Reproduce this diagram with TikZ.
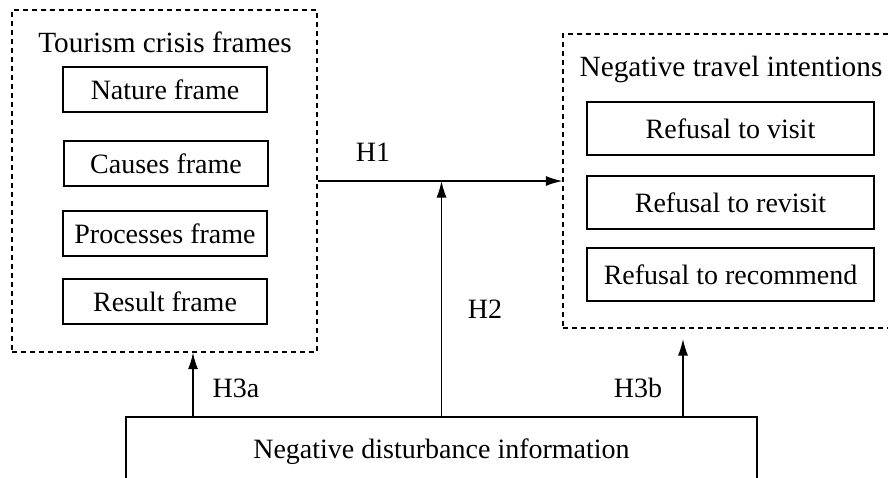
\documentclass[tikz,border=0pt]{standalone}
\usepackage{fontspec}
\setmainfont{Liberation Serif}
\usetikzlibrary{arrows.meta}
\begin{document}
\begin{tikzpicture}[x=0.5pt,y=-0.5pt,
  txt/.style={font=\fontsize{14}{16}\selectfont, inner sep=0pt},
  ttl/.style={font=\fontsize{14.65}{17}\selectfont, inner sep=0pt},
  frame/.style={draw, dash pattern=on 2.6pt off 1.9pt, line width=0.6pt, inner sep=0pt},
  item/.style={draw, line width=0.75pt, inner sep=0pt, font=\fontsize{14}{16}\selectfont},
  arr/.style={-{Latex[length=8.3pt,width=5pt]}, line width=0.65pt}]
\clip (0,0) rectangle (888,477);
\useasboundingbox (0,0) rectangle (888,477);

% framing groups
\node[frame, minimum width=152.5pt, minimum height=171pt] (tcf) at (164.5,181) {};
\node[ttl] (tcft) at (165,42) {Tourism crisis frames};
\node[item, minimum width=102pt, minimum height=22.5pt] (f1) at (165,89.5) {Nature frame};
\node[item, minimum width=102pt, minimum height=22.5pt] (f2) at (166,163.5) {Causes frame};
\node[item, minimum width=102pt, minimum height=22.5pt] (f3) at (165,233.5) {Processes frame};
\node[item, minimum width=102pt, minimum height=22.5pt] (f4) at (165,301.5) {Result frame};

\node[frame, minimum width=167.5pt, minimum height=147pt] (nti) at (730.5,181) {};
\node[ttl] (ntit) at (731,69) {Negative travel intentions};
\node[item, minimum width=143.5pt, minimum height=26.5pt] (r1) at (730.5,128.5) {Refusal to visit};
\node[item, minimum width=143.5pt, minimum height=26.5pt] (r2) at (730.5,202.5) {Refusal to revisit};
\node[item, minimum width=143.5pt, minimum height=26.5pt] (r3) at (730.5,274.5) {Refusal to recommend};

% source box
\node[item, minimum width=315.5pt, minimum height=35pt] (ndi) at (441.5,452) {Negative disturbance information};

% connectors
\coordinate (h3a) at (193,0);
\coordinate (h3b) at (683,339);
\draw[arr] (tcf.east) -- (nti.west);
\draw[arr] (ndi.north) -- (ndi.north |- tcf.east);
\draw[arr] (h3a |- ndi.north) -- (h3a |- tcf.south);
\draw[arr] (h3b |- ndi.north) -- (h3b);

% hypothesis labels
\node[txt] (lh1) at (373,152) {H1};
\node[txt] (lh2) at (485,309) {H2};
\node[txt] (lh3a) at (236,388) {H3a};
\node[txt] (lh3b) at (638,388) {H3b};
\end{tikzpicture}
\end{document}
